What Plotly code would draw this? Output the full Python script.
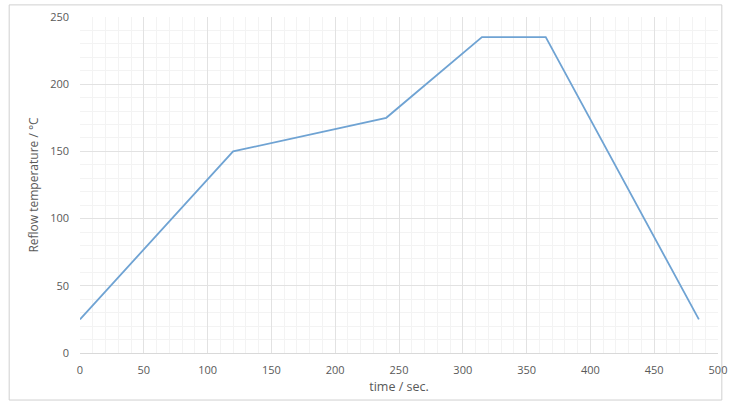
import plotly.graph_objects as go

time_s = [0, 120, 240, 315, 365, 485]
temp_c = [25, 150, 175, 235, 235, 25]
x_ticks = [0, 50, 100, 150, 200, 250, 300, 350, 400, 450, 500]
y_ticks = [0, 50, 100, 150, 200, 250]

fig = go.Figure()
fig.add_trace(go.Scatter(x=time_s, y=temp_c, mode="lines",
                         line=dict(color="#6fa3d3", width=1.8), showlegend=False,
                         hoverinfo="skip"))

font = "Open Sans"
fig.update_layout(
    width=729, height=403,
    margin=dict(l=80, r=11, t=17, b=50, autoexpand=False),
    paper_bgcolor="white", plot_bgcolor="white",
    font=dict(family=font, size=11, color="#595959"),
    xaxis=dict(range=[0, 500], tickvals=x_ticks, showgrid=True, gridcolor="#e2e2e2",
               gridwidth=1, zeroline=False, showline=True, linecolor="#d9d9d9",
               minor=dict(dtick=10, showgrid=True, gridcolor="#f3f3f3"),
               title=dict(text="time / sec.", font=dict(size=12.5, color="#595959"), standoff=6),
               ticks="", ticklabelstandoff=7, tickfont=dict(size=11), automargin=False),
    yaxis=dict(range=[0, 250], tickvals=y_ticks, showgrid=True, gridcolor="#e2e2e2",
               gridwidth=1, zeroline=False, showline=False,
               minor=dict(dtick=10, showgrid=True, gridcolor="#f3f3f3"),
               title=dict(text="Reflow temperature / °C", font=dict(size=12, color="#595959"), standoff=8),
               ticks="", ticklabelstandoff=10, tickfont=dict(size=11), automargin=False),
    shapes=[dict(type="rect", xref="paper", yref="paper", x0=-0.111, x1=1.006,
                 y0=-0.14, y1=1.036, line=dict(color="#d0d0d0", width=1), layer="below")],
)
fig.write_html("out.html", config={"displayModeBar": False},
               post_script="document.body.style.margin='0';document.body.style.overflow='hidden';")
